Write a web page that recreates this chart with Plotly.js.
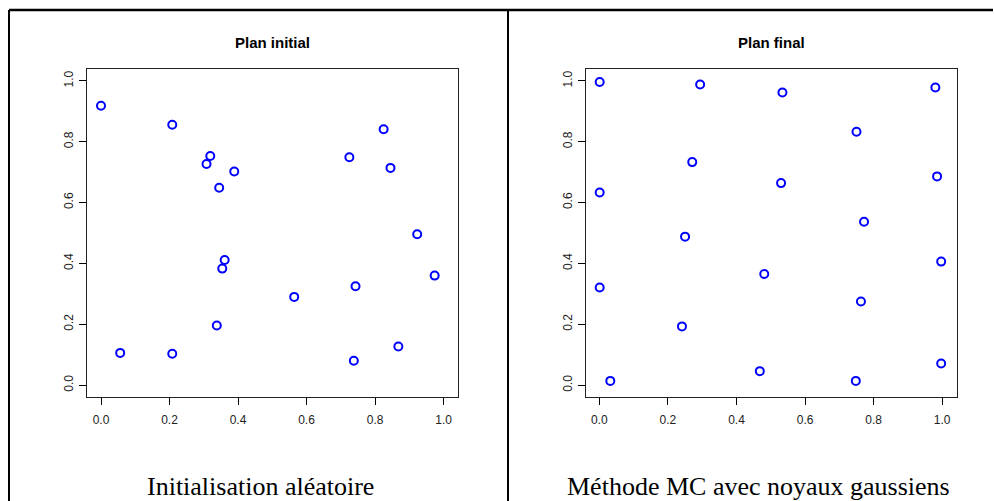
<!DOCTYPE html>
<html>
<head>
<meta charset="utf-8">
<script src="https://cdn.plot.ly/plotly-3.0.1.min.js"></script>
<style>html,body{margin:0;padding:0;background:#fff;} #chart{width:994px;height:501px;}</style>
</head>
<body>
<div id="chart"></div>
<script>
const initX = [0.000, 0.208, 0.319, 0.308, 0.389, 0.345, 0.361, 0.354, 0.338, 0.056, 0.208, 0.564, 0.743, 0.974, 0.868, 0.738, 0.825, 0.725, 0.845, 0.923];
const initY = [0.918, 0.856, 0.753, 0.727, 0.702, 0.649, 0.411, 0.383, 0.196, 0.106, 0.103, 0.290, 0.325, 0.360, 0.127, 0.080, 0.841, 0.749, 0.714, 0.496];
const finalX = [0.001, 0.294, 0.271, 0.001, 0.250, 0.001, 0.241, 0.032, 0.534, 0.980, 0.750, 0.530, 0.985, 0.772, 0.481, 0.763, 0.997, 0.468, 0.748, 0.997];
const finalY = [0.996, 0.988, 0.733, 0.633, 0.488, 0.321, 0.193, 0.014, 0.962, 0.978, 0.833, 0.664, 0.686, 0.537, 0.365, 0.275, 0.406, 0.046, 0.014, 0.071];
const tickVals = [0, 0.2, 0.4, 0.6, 0.8, 1.0];
const tickText = ["0.0", "0.2", "0.4", "0.6", "0.8", "1.0"];
const panelTitles = ["Plan initial", "Plan final"];
const captions = ["Initialisation aléatoire", "Méthode MC avec noyaux gaussiens"];

const W = 994, H = 501;
const px = v => v / W;
const py = v => 1 - v / H;

const marker = {symbol: 'circle-open', size: 8, color: '#0000ff', line: {width: 2, color: '#0000ff'}};
const traces = [
  {x: initX, y: initY, type: 'scatter', mode: 'markers', marker: marker, xaxis: 'x', yaxis: 'y', hoverinfo: 'skip'},
  {x: finalX, y: finalY, type: 'scatter', mode: 'markers', marker: marker, xaxis: 'x2', yaxis: 'y2', hoverinfo: 'skip'}
];

function ax(domain, range, isY, anchor) {
  return {
    domain: domain, range: range, anchor: anchor,
    tickmode: 'array', tickvals: tickVals, ticktext: tickText,
    ticks: 'outside', ticklen: 7, tickwidth: 1, tickcolor: '#000',
    showline: true, linecolor: '#222', linewidth: 1, mirror: true,
    showgrid: false, zeroline: false,
    tickfont: {family: 'Liberation Sans, Arial, sans-serif', size: 12, color: '#222'},
    tickangle: isY ? -90 : 0,
    ticklabelstandoff: isY ? 2 : 5,
    fixedrange: true
  };
}

const yDom = [py(396.7), py(69)];
const titleFont = {family: 'Liberation Sans, Arial, sans-serif', size: 15, color: '#000'};
const capFont = {family: 'Liberation Serif, Times New Roman, serif', size: 26, color: '#000'};
const layout = {
  width: W, height: H,
  margin: {l: 0, r: 0, t: 0, b: 0},
  paper_bgcolor: '#fff', plot_bgcolor: '#fff',
  showlegend: false,
  xaxis: ax([px(87.3), px(458.3)], [-0.04, 1.043], false, 'y'),
  yaxis: ax(yDom, [-0.038, 1.039], true, 'x'),
  xaxis2: ax([px(586.3), px(957.3)], [-0.038, 1.044], false, 'y2'),
  yaxis2: ax(yDom, [-0.038, 1.039], true, 'x2'),
  annotations: [
    {text: '<b>' + panelTitles[0] + '</b>', x: px(272.8), y: py(42), xref: 'paper', yref: 'paper', xanchor: 'center', yanchor: 'middle', showarrow: false, font: titleFont},
    {text: '<b>' + panelTitles[1] + '</b>', x: px(771.8), y: py(42), xref: 'paper', yref: 'paper', xanchor: 'center', yanchor: 'middle', showarrow: false, font: titleFont},
    {text: captions[0], x: px(260), y: py(486), xref: 'paper', yref: 'paper', xanchor: 'center', yanchor: 'middle', showarrow: false, font: capFont},
    {text: captions[1], x: px(758), y: py(486), xref: 'paper', yref: 'paper', xanchor: 'center', yanchor: 'middle', showarrow: false, font: capFont}
  ],
  shapes: [
    {type: 'line', xref: 'paper', yref: 'paper', x0: px(9), x1: px(993), y0: py(10), y1: py(10), line: {color: '#000', width: 2.5}},
    {type: 'line', xref: 'paper', yref: 'paper', x0: px(9), x1: px(9), y0: py(10), y1: py(501), line: {color: '#000', width: 2}},
    {type: 'line', xref: 'paper', yref: 'paper', x0: px(508), x1: px(508), y0: py(10), y1: py(501), line: {color: '#000', width: 2}}
  ]
};

Plotly.newPlot('chart', traces, layout, {staticPlot: true, displayModeBar: false});
</script>
</body>
</html>
